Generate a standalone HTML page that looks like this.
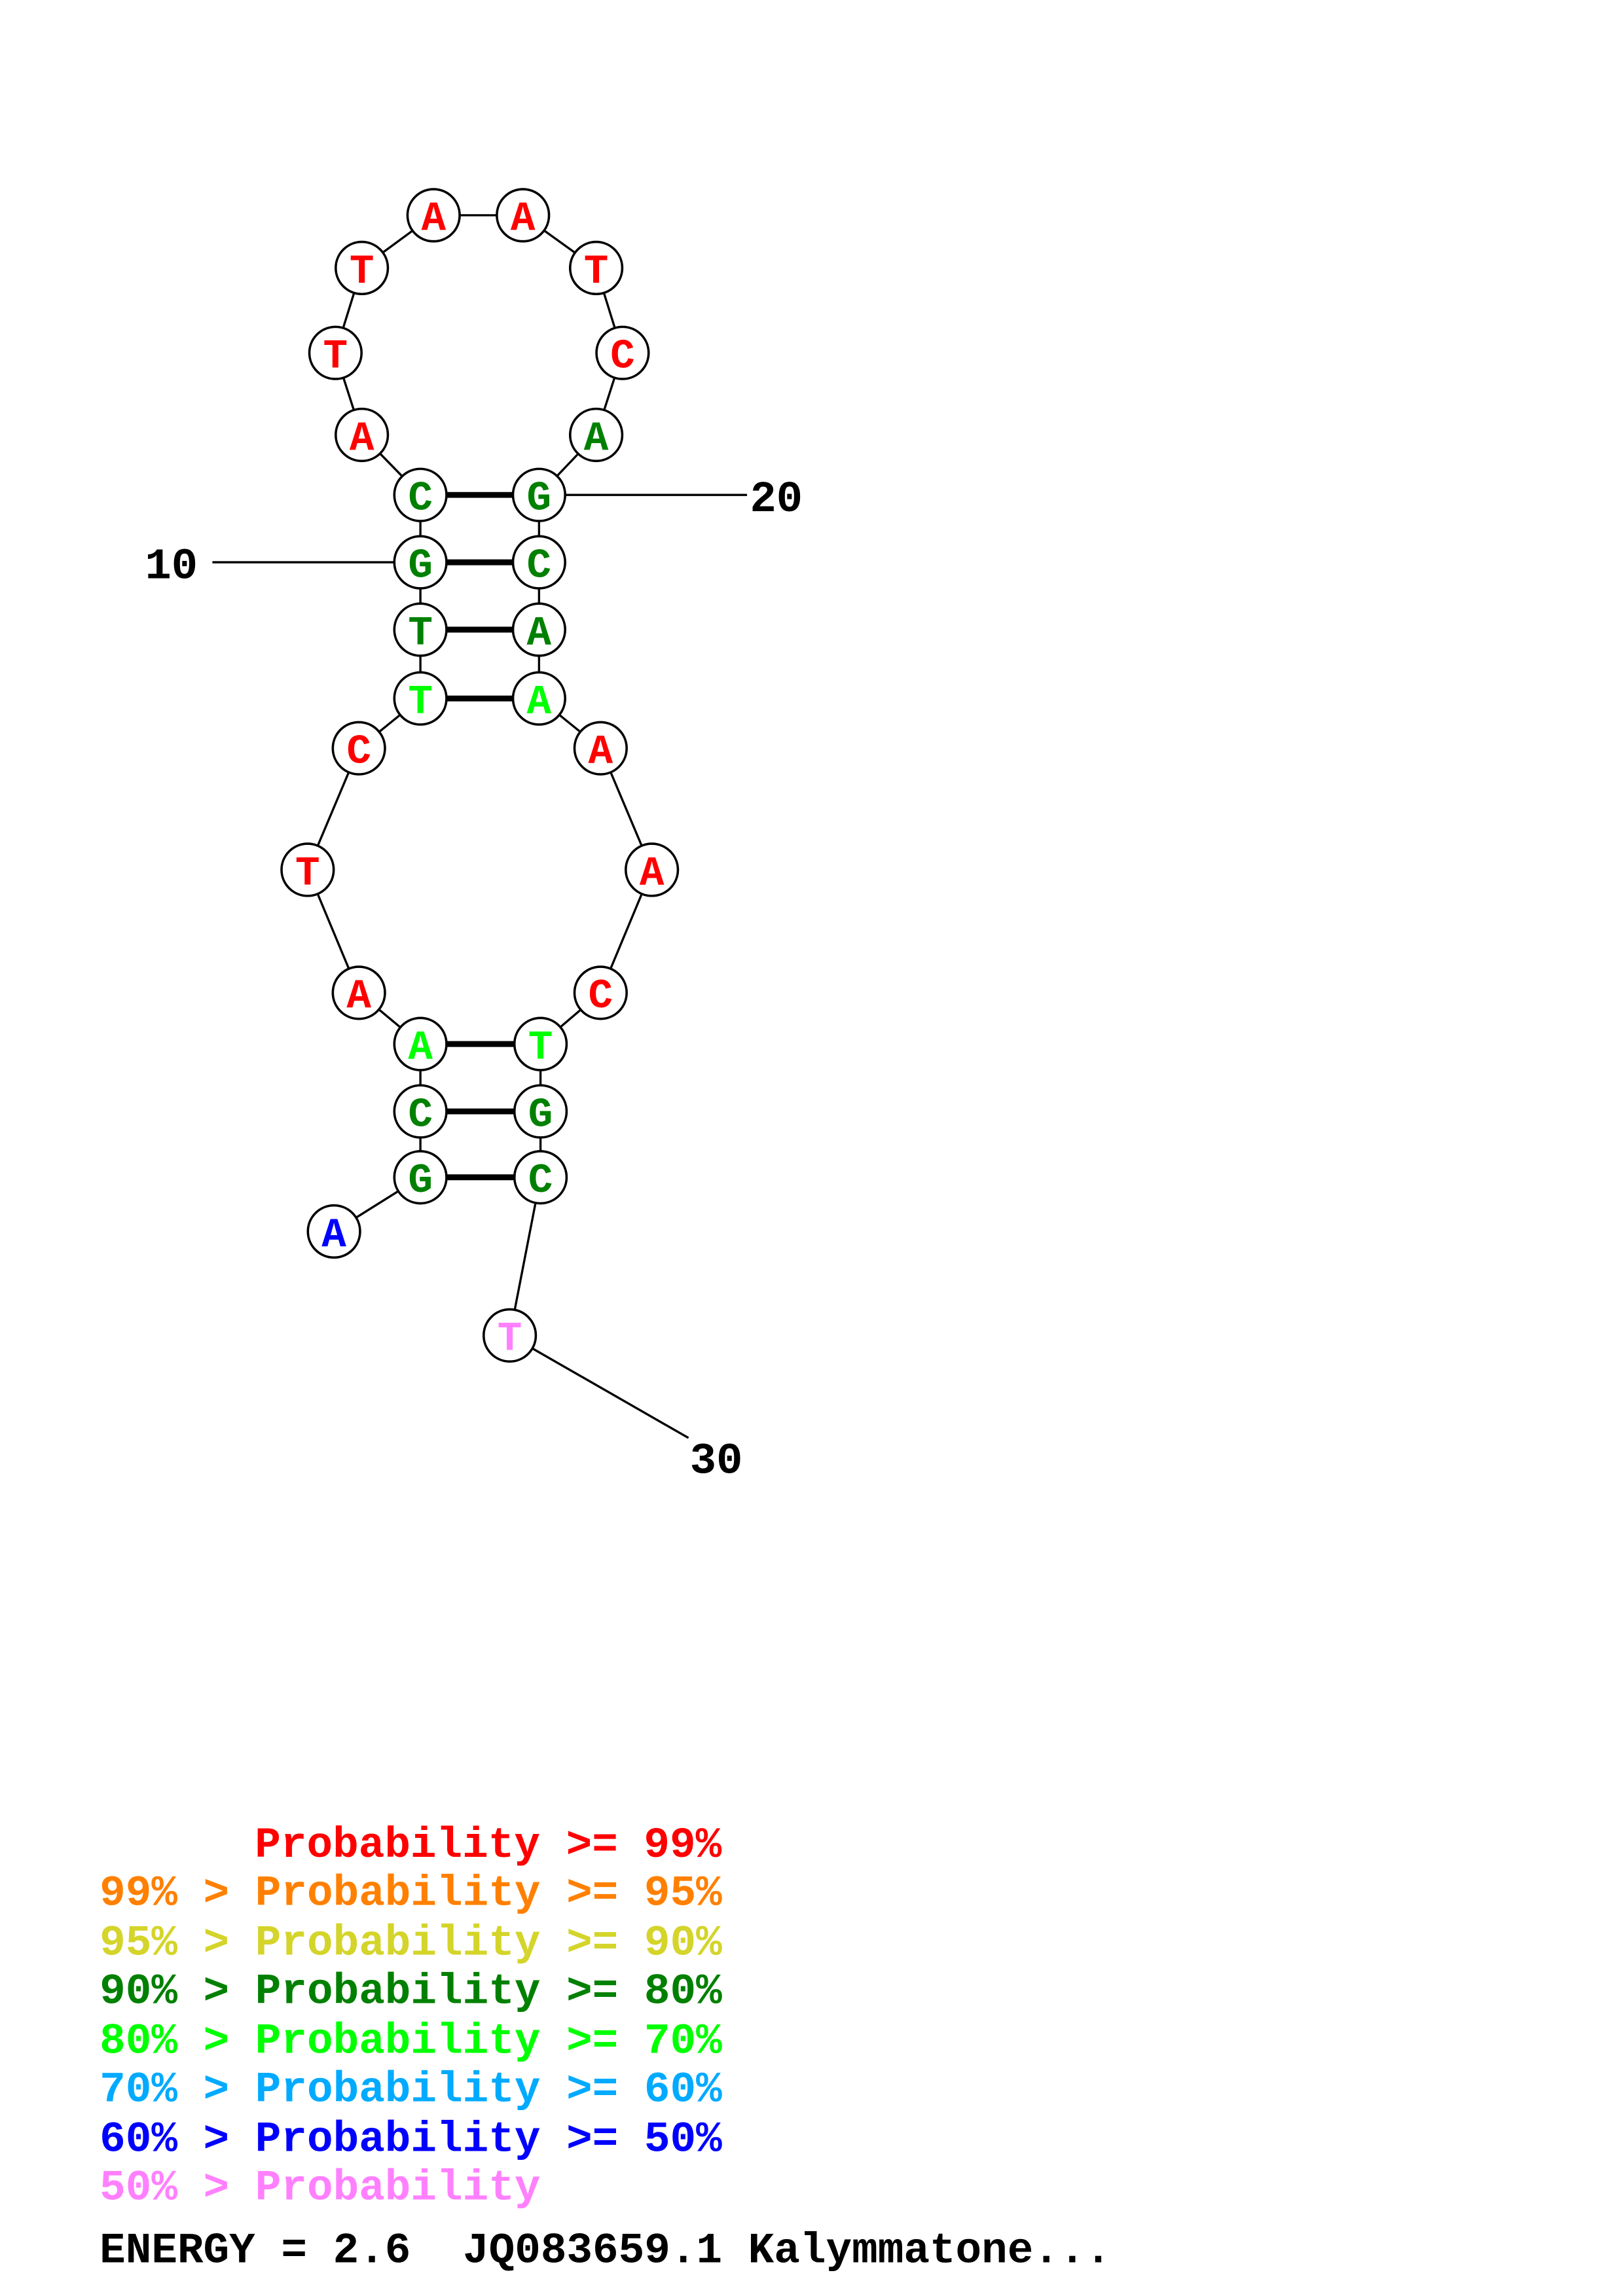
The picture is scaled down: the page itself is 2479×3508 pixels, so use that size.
<!DOCTYPE html>
<html><head><meta charset="utf-8"><style>html,body{margin:0;padding:0;background:#fff}svg{display:block}</style></head>
<body>
<svg width="2479" height="3508" viewBox="0 0 1108 1568" preserveAspectRatio="none" xmlns="http://www.w3.org/2000/svg">
<rect width="1108" height="1568" fill="#fff"/>
<g stroke="#000" stroke-width="1.5" fill="none">
<polyline points="228,841 287,804 287,759 287,713 245,678 210,594 245,511 287,477 287,430 287,384 287,338 247,297 229,241 247,183 296,147 357,147 407,183 425,241 407,297 368,338 368,384 368,430 368,477 410,511 445,594 410,678 369,713 369,759 369,804 348,912"/>
<line x1="145" y1="384" x2="287" y2="384"/>
<line x1="368" y1="338" x2="510" y2="338"/>
<line x1="348" y1="912" x2="470" y2="982"/>
</g>
<g stroke="#000" stroke-width="4">
<line x1="287" y1="338" x2="368" y2="338"/>
<line x1="287" y1="384" x2="368" y2="384"/>
<line x1="287" y1="430" x2="368" y2="430"/>
<line x1="287" y1="477" x2="368" y2="477"/>
<line x1="287" y1="713" x2="369" y2="713"/>
<line x1="287" y1="759" x2="369" y2="759"/>
<line x1="287" y1="804" x2="369" y2="804"/>
</g>
<g stroke="#000" stroke-width="1.6" fill="#fff">
<circle cx="228" cy="841" r="17.8"/><circle cx="287" cy="804" r="17.8"/><circle cx="287" cy="759" r="17.8"/><circle cx="287" cy="713" r="17.8"/>
<circle cx="245" cy="678" r="17.8"/><circle cx="210" cy="594" r="17.8"/><circle cx="245" cy="511" r="17.8"/><circle cx="287" cy="477" r="17.8"/>
<circle cx="287" cy="430" r="17.8"/><circle cx="287" cy="384" r="17.8"/><circle cx="287" cy="338" r="17.8"/><circle cx="247" cy="297" r="17.8"/>
<circle cx="229" cy="241" r="17.8"/><circle cx="247" cy="183" r="17.8"/><circle cx="296" cy="147" r="17.8"/><circle cx="357" cy="147" r="17.8"/>
<circle cx="407" cy="183" r="17.8"/><circle cx="425" cy="241" r="17.8"/><circle cx="407" cy="297" r="17.8"/><circle cx="368" cy="338" r="17.8"/>
<circle cx="368" cy="384" r="17.8"/><circle cx="368" cy="430" r="17.8"/><circle cx="368" cy="477" r="17.8"/><circle cx="410" cy="511" r="17.8"/>
<circle cx="445" cy="594" r="17.8"/><circle cx="410" cy="678" r="17.8"/><circle cx="369" cy="713" r="17.8"/><circle cx="369" cy="759" r="17.8"/>
<circle cx="369" cy="804" r="17.8"/><circle cx="348" cy="912" r="17.8"/>
</g>
<g font-family="Liberation Mono, monospace" font-weight="bold" font-size="28" text-anchor="middle">
<text x="228" y="851" fill="#0000ff">A</text>
<text x="287" y="814" fill="#008000">G</text>
<text x="287" y="769" fill="#008000">C</text>
<text x="287" y="723" fill="#00ff00">A</text>
<text x="245" y="688" fill="#ff0000">A</text>
<text x="210" y="604" fill="#ff0000">T</text>
<text x="245" y="521" fill="#ff0000">C</text>
<text x="287" y="487" fill="#00ff00">T</text>
<text x="287" y="440" fill="#008000">T</text>
<text x="287" y="394" fill="#008000">G</text>
<text x="287" y="348" fill="#008000">C</text>
<text x="247" y="307" fill="#ff0000">A</text>
<text x="229" y="251" fill="#ff0000">T</text>
<text x="247" y="193" fill="#ff0000">T</text>
<text x="296" y="157" fill="#ff0000">A</text>
<text x="357" y="157" fill="#ff0000">A</text>
<text x="407" y="193" fill="#ff0000">T</text>
<text x="425" y="251" fill="#ff0000">C</text>
<text x="407" y="307" fill="#008000">A</text>
<text x="368" y="348" fill="#008000">G</text>
<text x="368" y="394" fill="#008000">C</text>
<text x="368" y="440" fill="#008000">A</text>
<text x="368" y="487" fill="#00ff00">A</text>
<text x="410" y="521" fill="#ff0000">A</text>
<text x="445" y="604" fill="#ff0000">A</text>
<text x="410" y="688" fill="#ff0000">C</text>
<text x="369" y="723" fill="#00ff00">T</text>
<text x="369" y="769" fill="#008000">G</text>
<text x="369" y="814" fill="#008000">C</text>
<text x="348" y="922" fill="#ff80ff">T</text>
</g>
<g font-family="Liberation Mono, monospace" font-weight="bold" font-size="30" fill="#000">
<text x="99" y="395">10</text>
<text x="512" y="349">20</text>
<text x="471" y="1006">30</text>
</g>
<g font-family="Liberation Mono, monospace" font-weight="bold" font-size="29.5">
<text x="174" y="1268" fill="#ff0000">Probability &gt;= 99%</text>
<text x="68" y="1301" fill="#ff8000">99% &gt; Probability &gt;= 95%</text>
<text x="68" y="1335" fill="#d4d42a">95% &gt; Probability &gt;= 90%</text>
<text x="68" y="1368" fill="#008000">90% &gt; Probability &gt;= 80%</text>
<text x="68" y="1402" fill="#00ff00">80% &gt; Probability &gt;= 70%</text>
<text x="68" y="1435" fill="#00aaff">70% &gt; Probability &gt;= 60%</text>
<text x="68" y="1469" fill="#0000ff">60% &gt; Probability &gt;= 50%</text>
<text x="68" y="1502" fill="#ff80ff">50% &gt; Probability</text>
<text x="68" y="1545" fill="#000">ENERGY = 2.6</text>
<text x="316" y="1545" fill="#000">JQ083659.1 Kalymmatone...</text>
</g>
</svg>
</body></html>
